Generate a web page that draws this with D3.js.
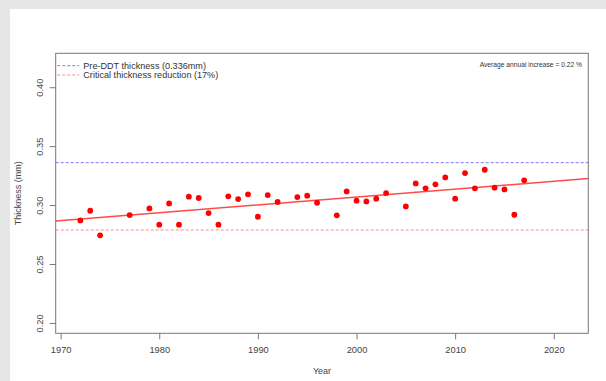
<!DOCTYPE html>
<html><head><meta charset="utf-8">
<script src="https://cdn.jsdelivr.net/npm/d3@7"></script>
<style>
html,body{margin:0;padding:0;background:#e6e6e6;}
svg{display:block;font-family:"Liberation Sans",Arial,sans-serif;}
</style></head><body>
<svg id="c" width="606" height="381"></svg>
<script>
const years = [1972,1973,1974,1977,1979,1980,1981,1982,1983,1984,1985,1986,1987,1988,1989,1990,1991,1992,1994,1995,1996,1998,1999,2000,2001,2002,2003,2005,2006,2007,2008,2009,2010,2011,2012,2013,2014,2015,2016,2017];
const thickness = [0.287,0.2952,0.2743,0.2915,0.2972,0.2834,0.3014,0.2834,0.3071,0.306,0.2932,0.2834,0.3074,0.3051,0.3091,0.2901,0.3085,0.3026,0.3068,0.308,0.302,0.2913,0.3116,0.3037,0.3031,0.3054,0.3102,0.2989,0.3184,0.3142,0.3176,0.3235,0.3054,0.3272,0.3142,0.33,0.3148,0.3133,0.2918,0.321];
const xTicks = [1970,1980,1990,2000,2010,2020];
const yTicks = [0.20,0.25,0.30,0.35,0.40];
const refValues = [0.336, 0.336*0.83];
const legendLabels = ["Pre-DDT thickness (0.336mm)","Critical thickness reduction (17%)"];
const annotation = "Average annual increase = 0.22 %";

const svg = d3.select("#c");
svg.append("rect").attr("x",10).attr("y",9).attr("width",596).attr("height",372).attr("fill","#fff");

const L=55.7, R=588.3, T=53.3, B=333.3;
const x = d3.scaleLinear().domain([1969.5,2023.5]).range([L,R]);
const y = d3.scaleLinear().domain([0.1912,0.4288]).range([B,T]);
const txt = "#444", axc = "#777";

// reference lines
const refColors = ["#7a7aff","#ff8c8c"];
refValues.forEach((v,i)=>{
  svg.append("line").attr("x1",L).attr("x2",R).attr("y1",y(v)).attr("y2",y(v))
    .attr("stroke",refColors[i]).attr("stroke-width",1).attr("stroke-dasharray","3,2");
});

// regression
const n=years.length, mx=d3.mean(years), my=d3.mean(thickness);
let sxy=0,sxx=0;
years.forEach((yr,i)=>{sxy+=(yr-mx)*(thickness[i]-my);sxx+=(yr-mx)*(yr-mx);});
const slope=sxy/sxx, icpt=my-slope*mx;
svg.append("line").attr("x1",L).attr("x2",R)
  .attr("y1",y(icpt+slope*1969.5)).attr("y2",y(icpt+slope*2023.5))
  .attr("stroke","#ff2a2a").attr("stroke-width",1.5).attr("stroke-opacity",0.85);

// points
svg.append("g").selectAll("circle").data(years).join("circle")
  .attr("cx",d=>x(d)).attr("cy",(d,i)=>y(thickness[i])).attr("r",2.9).attr("fill","#ff0000");

// frame
svg.append("rect").attr("x",L).attr("y",T).attr("width",R-L).attr("height",B-T)
  .attr("fill","none").attr("stroke",axc).attr("stroke-width",1);

// x axis
const xa = svg.append("g").attr("transform",`translate(0,${B})`)
  .call(d3.axisBottom(x).tickValues(xTicks).tickFormat(d3.format("d")).tickSize(6).tickPadding(3));
xa.select(".domain").remove();
xa.selectAll("line").attr("stroke",axc);
xa.selectAll("text").attr("fill",txt).attr("font-size","9.3px").attr("dy",null).attr("y",20);

// y axis
const ya = svg.append("g").attr("transform",`translate(${L},0)`)
  .call(d3.axisLeft(y).tickValues(yTicks).tickFormat(d3.format(".2f")).tickSize(6));
ya.select(".domain").remove();
ya.selectAll("line").attr("stroke",axc);
ya.selectAll("text").remove();
ya.selectAll(".tick").append("text")
  .attr("transform","translate(-12.7,0) rotate(-90)")
  .attr("text-anchor","middle").attr("fill",txt).attr("font-size","9.3px")
  .text(d=>d3.format(".2f")(d));

// titles
svg.append("text").attr("x",(L+R)/2).attr("y",373.5).attr("text-anchor","middle")
  .attr("fill",txt).attr("font-size","9px").text("Year");
svg.append("text").attr("transform",`translate(21,${(T+B)/2}) rotate(-90)`).attr("text-anchor","middle")
  .attr("fill",txt).attr("font-size","9px").text("Thickness (mm)");

// legend
legendLabels.forEach((lab,i)=>{
  const yy = 65.7 + i*9.3;
  svg.append("line").attr("x1",57.3).attr("x2",79.3).attr("y1",yy).attr("y2",yy)
    .attr("stroke",refColors[i]).attr("stroke-dasharray","3,2");
  svg.append("text").attr("x",83.3).attr("y",yy+3.2).attr("fill","#333").attr("font-size","9.1px").text(lab);
});

// annotation
svg.append("text").attr("x",582).attr("y",67.3).attr("text-anchor","end")
  .attr("fill","#333").attr("font-size","6.7px").text(annotation);
</script>
</body></html>
